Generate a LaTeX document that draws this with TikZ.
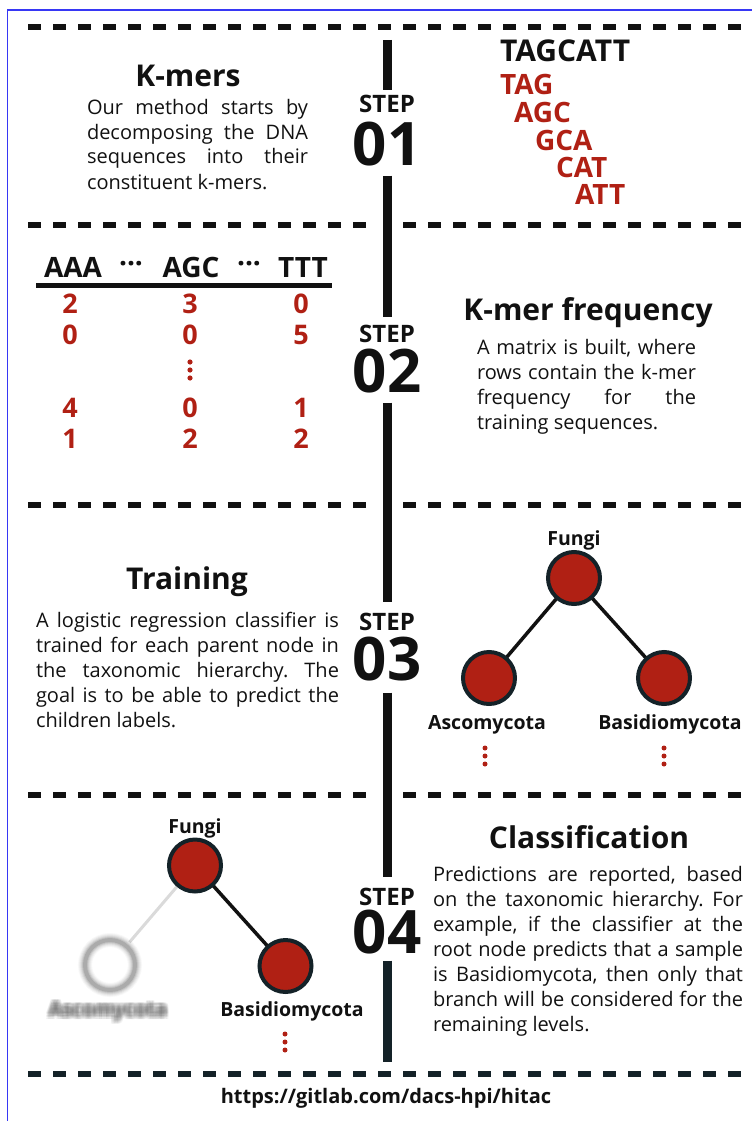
\documentclass[tikz,border=0pt]{standalone}
\usepackage{fontspec}
\setmainfont{Open Sans}
\usetikzlibrary{positioning,backgrounds}

\definecolor{kmerred}{RGB}{176,32,20}
\definecolor{inkdark}{RGB}{17,17,17}
\definecolor{inkslate}{RGB}{20,34,40}
\definecolor{frameblue}{RGB}{55,55,245}
\definecolor{ghostgray}{RGB}{110,110,110}
\definecolor{fadedgray}{RGB}{218,218,218}

\frenchspacing

\begin{document}
\begin{tikzpicture}[
x=1pt, y=-1pt,
every node/.style={
inner sep=0pt,
outer sep=0pt,
text=inkdark
},
spine/.style={draw=inkdark, line width=9pt},
divider/.style={draw=inkdark, line width=6pt, dash pattern=on 13pt off 12pt},
branch/.style={draw=inkdark, line width=3.5pt}
]

\useasboundingbox (0,0) rectangle (752,1121);

% =====================================================
% Styles
% =====================================================

\tikzstyle{steptag} =
[anchor=base,
font=\fontsize{24}{24}\selectfont\bfseries]

\tikzstyle{stepnum} =
[anchor=base,
font=\fontsize{60}{60}\selectfont\bfseries]

\tikzstyle{heading} =
[anchor=base,
font=\fontsize{30}{30}\selectfont\bfseries]

\tikzstyle{bodytext} =
[anchor=base west,
align=justify,
font=\fontsize{20}{25}\selectfont]

\tikzstyle{kmer} =
[anchor=base west,
text=kmerred,
font=\fontsize{28}{28}\selectfont\bfseries]

\tikzstyle{freqhead} =
[anchor=base,
font=\fontsize{28}{28}\selectfont\bfseries]

\tikzstyle{freq} =
[anchor=base,
text=kmerred,
font=\fontsize{27}{27}\selectfont\bfseries]

\tikzstyle{taxon} =
[circle,
minimum size=52pt,
fill=kmerred,
draw=inkslate,
line width=4pt]

\tikzstyle{taxonname} =
[anchor=base,
font=\fontsize{19.5}{19.5}\selectfont\bfseries]

\tikzstyle{ghostname} =
[anchor=base,
text=ghostgray,
opacity=0.09,
font=\fontsize{19.5}{19.5}\selectfont\bfseries]

% =====================================================
% Frame and dividers
% =====================================================

\draw[frameblue, line width=1.5pt] (7.5,1121) -- (7.5,10) -- (752,10);

\draw[divider] (28,27) -- (752,27);
\draw[divider] (28,225) -- (367,225);
\draw[divider] (403,225) -- (752,225);
\draw[divider] (28,505) -- (367,505);
\draw[divider] (403,505) -- (752,505);
\draw[divider] (28,795) -- (367,795);
\draw[divider] (403,795) -- (752,795);
\draw[divider, draw=inkslate] (28,1074) -- (752,1074);

% =====================================================
% Steps
% =====================================================

\node (tag1) [steptag] at (387,113) {STEP};
\node (num1) [stepnum] at (387,165) {01};
\node (tag2) [steptag] at (387,342) {STEP};
\node (num2) [stepnum] at (387,392) {02};
\node (tag3) [steptag] at (387,630) {STEP};
\node (num3) [stepnum] at (387,680) {03};
\node (tag4) [steptag] at (387,905) {STEP};
\node (num4) [stepnum] at (387,953) {04};

\coordinate (spinetop) at (387,40);
\coordinate (spinebottom) at (387,1062);

\draw[spine, shorten >=6pt] (spinetop) -- (tag1.north);
\draw[spine, shorten <=10pt, shorten >=8pt] (num1.south) -- (tag2.north);
\draw[spine, shorten <=10pt, shorten >=11pt] (num2.south) -- (tag3.north);
\draw[spine, shorten <=12pt, shorten >=11pt] (num3.south) -- (tag4.north);
\draw[spine, draw=inkslate, shorten <=7pt] (num4.south) -- (spinebottom);

% =====================================================
% Step 01: k-mers
% =====================================================

\node (kmerstitle) [heading] at (188,87) {K-mers};

\node (kmerstext) [bodytext, text width=221pt] at (87,114)
{Our method starts by\linebreak decomposing the DNA\linebreak sequences into their\linebreak constituent k-mers.};

\node (sequence) [kmer, text=inkdark, font=\fontsize{30}{30}\selectfont\bfseries] at (500,62) {TAGCATT};
\node (kmer1) [kmer] at (500,95) {TAG};
\node (kmer2) [kmer] at (514,122) {AGC};
\node (kmer3) [kmer] at (535,150) {GCA};
\node (kmer4) [kmer] at (556,177) {CAT};
\node (kmer5) [kmer] at (575,204) {ATT};

% =====================================================
% Step 02: k-mer frequency
% =====================================================

\node (headAAA) [freqhead] at (73,277) {AAA};
\node (headdots1) [freqhead] at (131,277) {\raisebox{4pt}{···}};
\node (headAGC) [freqhead] at (191,277) {AGC};
\node (headdots2) [freqhead] at (249,277) {\raisebox{4pt}{···}};
\node (headTTT) [freqhead] at (303,277) {TTT};
\draw[inkdark, line width=4.5pt] (36,285.5) -- (332,285.5);

\foreach \y/\a/\b/\c [count=\r] in {313/2/3/0, 344.5/0/0/5, 417/4/0/1, 448/1/2/2} {
  \node (freqa\r) [freq] at (70,\y) {\a};
  \node (freqb\r) [freq] at (190,\y) {\b};
  \node (freqc\r) [freq] at (301,\y) {\c};
}
\foreach \y in {362,370,378}
  \fill[kmerred] (190,\y) circle (2.6pt);

\node (freqtitle) [heading] at (588,320) {K-mer frequency};

\node (freqtext) [bodytext, text width=219pt] at (477,354)
{A matrix is built, where\linebreak rows contain the k-mer\linebreak frequency for the\linebreak training sequences.};

% =====================================================
% Step 03: training
% =====================================================

\node (traintitle) [heading] at (187,589) {Training};

\node (traintext) [bodytext, text width=303pt] at (36,627)
{A logistic regression classifier is\linebreak trained for each parent node in\linebreak the taxonomic hierarchy. The\linebreak goal is to be able to predict the\linebreak children labels.};

\node (fungi3) [taxon] at (574,578) {};
\node (asco3) [taxon] at (489,678) {};
\node (basid3) [taxon] at (664,678) {};

\begin{scope}[on background layer]
\draw[branch] (fungi3) -- (asco3);
\draw[branch] (fungi3) -- (basid3);
\end{scope}

\node (fungi3name) [taxonname] at (574,545) {Fungi};
\node (asco3name) [taxonname] at (487,729) {Ascomycota};
\node (basid3name) [taxonname] at (670,729) {Basidiomycota};

\foreach \y in {748,756,764} {
  \fill[kmerred] (485,\y) circle (2.5pt);
  \fill[kmerred] (664,\y) circle (2.5pt);
}

% =====================================================
% Step 04: classification
% =====================================================

\node (fungi4) [taxon] at (195,865.5) {};
\node (basid4) [taxon] at (285.5,966) {};
\node (asco4) [circle, minimum size=60pt] at (110,965) {};

\foreach \w/\o in {14/0.05, 12/0.07, 10/0.09, 8/0.12, 6/0.18, 4/0.28}
  \draw[ghostgray, line width=\w pt, opacity=\o] (asco4.center) circle (25pt);

\foreach \dx [count=\i] in {-3,-1.5,0,1.5,3}
  \foreach \dy [count=\j] in {-3,-1.5,0,1.5,3}
    \node (asco4name\i\j) [ghostname] at ({108+\dx},{1016+\dy}) {Ascomycota};

\begin{scope}[on background layer]
\draw[fadedgray, line width=3pt] (fungi4) -- (asco4);
\draw[branch] (fungi4) -- (basid4);
\end{scope}

\node (fungi4name) [taxonname] at (195,833) {Fungi};
\node (basid4name) [taxonname] at (292,1016) {Basidiomycota};

\foreach \y in {1034,1042,1050}
  \fill[kmerred] (285,\y) circle (2.5pt);

\node (classtitle) [heading] at (589,848) {Classification};

\node (classtext) [bodytext, text width=310pt] at (433,881)
{Predictions are reported, based\linebreak on the taxonomic hierarchy. For\linebreak example, if the classifier at the\linebreak root node predicts that a sample\linebreak is Basidiomycota, then only that\linebreak branch will be considered for the\linebreak remaining levels.};

% =====================================================
% Footer
% =====================================================

\node (repo) [taxonname, font=\fontsize{20}{20}\selectfont\bfseries] at (386,1103)
{https://gitlab.com/dacs-hpi/hitac};

\end{tikzpicture}
\end{document}
